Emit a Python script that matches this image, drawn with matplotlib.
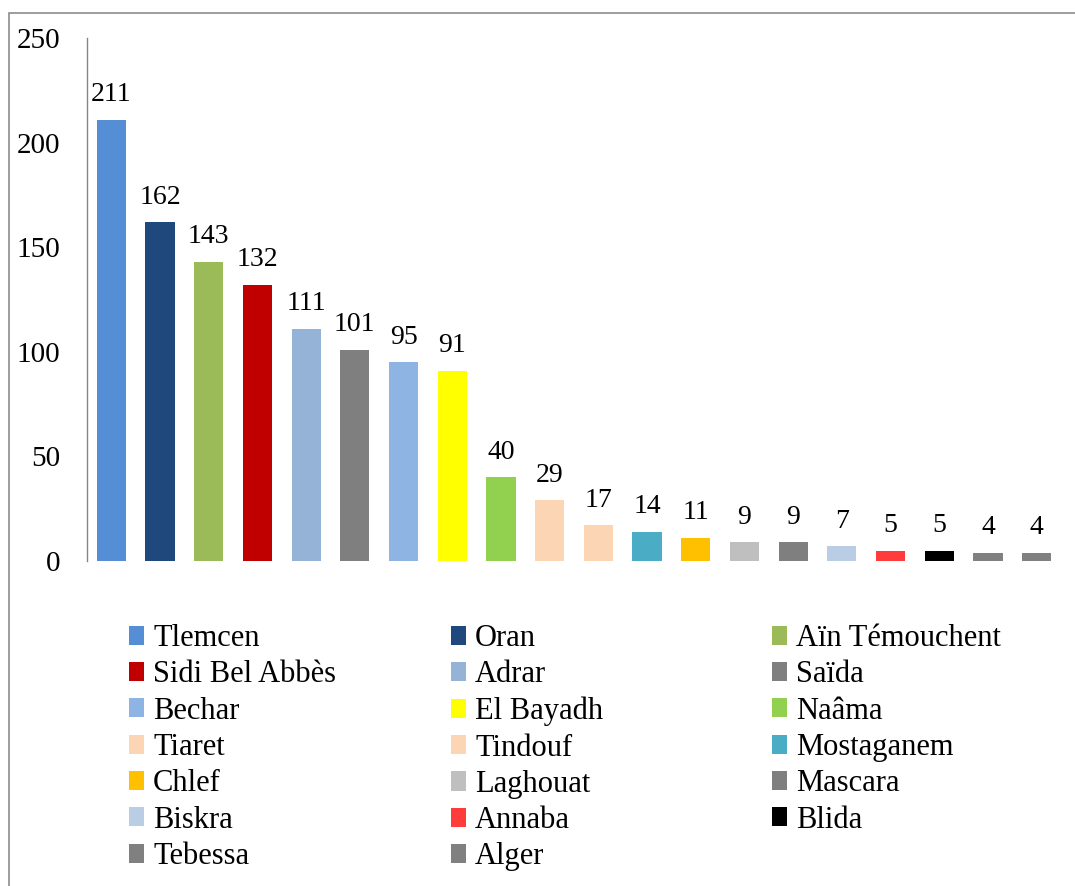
import matplotlib
matplotlib.use("Agg")
import matplotlib.pyplot as plt
from matplotlib.patches import Patch, Rectangle

plt.rcParams['font.family'] = ['Liberation Serif', 'DejaVu Serif']

categories = ["Tlemcen", "Oran", "Aïn Témouchent", "Sidi Bel Abbès", "Adrar", "Saïda",
              "Bechar", "El Bayadh", "Naâma", "Tiaret", "Tindouf", "Mostaganem",
              "Chlef", "Laghouat", "Mascara", "Biskra", "Annaba", "Blida",
              "Tebessa", "Alger"]
values = [211, 162, 143, 132, 111, 101, 95, 91, 40, 29, 17, 14, 11, 9, 9, 7, 5, 5, 4, 4]
colors = ["#558ED5", "#1F497D", "#9BBB59", "#C00000", "#95B3D7", "#7F7F7F",
          "#8DB4E2", "#FFFF00", "#92D050", "#FCD5B5", "#FCD5B5", "#4BACC6",
          "#FFC000", "#BFBFBF", "#7F7F7F", "#B9CDE5", "#FF3B3B", "#000000",
          "#808080", "#808080"]
yticks = [0, 50, 100, 150, 200, 250]

W, H = 1075, 886
fig = plt.figure(figsize=(W / 100, H / 100), dpi=100)
fig.patch.set_facecolor("white")

# outer chart border
fig.add_artist(Rectangle((9 / W, -0.1), 1.2, 1 - 13 / H + 0.1, transform=fig.transFigure,
                         fill=False, edgecolor="#8C8C8C", linewidth=1.2))

ax = fig.add_axes([87 / W, 1 - 561 / H, (1061 - 87) / W, (561 - 38) / H])
x = list(range(len(values)))
bars = ax.bar(x, values, width=0.6, color=colors)
ax.set_xlim(-0.5, len(values) - 0.5)
ax.set_ylim(0, 250)
ax.set_yticks(yticks)
ax.tick_params(axis='y', length=0, pad=19.5, labelsize=21)
ax.set_xticks([])
for s in ["top", "right", "bottom"]:
    ax.spines[s].set_visible(False)
ax.spines["left"].set_color("#868686")
ax.spines["left"].set_linewidth(1.0)

for xi, v in zip(x, values):
    ax.annotate(str(v), (xi, v), xytext=(0, 9), textcoords="offset points",
                ha="center", va="bottom", fontsize=20)

handles = [Patch(facecolor=c, edgecolor="none") for c in colors]
col_x = [129 / W, 451 / W, 772 / W]
for ci in range(3):
    idx = list(range(ci, len(categories), 3))
    fig.legend([handles[i] for i in idx], [categories[i] for i in idx],
               loc="upper left", bbox_to_anchor=(col_x[ci], 1 - 624 / H),
               frameon=False, fontsize=22, handlelength=0.49, handleheight=0.59,
               handletextpad=0.3, labelspacing=0.24, borderpad=0, borderaxespad=0)

fig.savefig("out.png", dpi=100, facecolor="white")
